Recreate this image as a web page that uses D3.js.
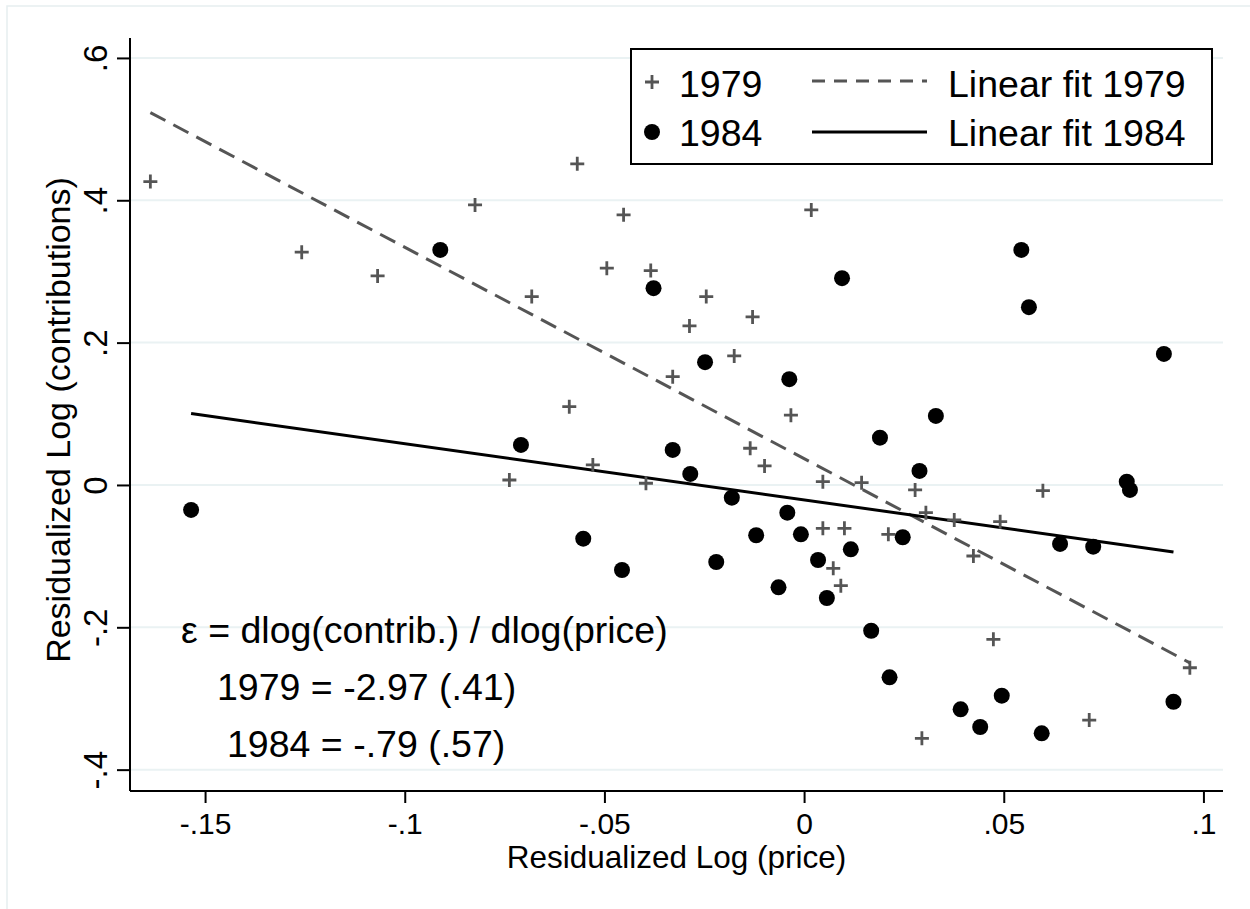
<!DOCTYPE html>
<html>
<head>
<meta charset="utf-8">
<script src="https://cdn.jsdelivr.net/npm/d3@7"></script>
<style>
  html, body { margin: 0; padding: 0; background: #fff; }
  svg { display: block; font-family: "Liberation Sans", Arial, Helvetica, sans-serif; }
</style>
</head>
<body>
<svg id="chart" width="1250" height="909"></svg>
<script>
// ---- data ----
const x1979 = [-0.1637,-0.1258,-0.1068,-0.0824,-0.0568,-0.0452,0.0018,-0.0494,-0.0384,-0.0682,
               -0.0245,-0.0129,-0.0287,-0.0175,-0.0329,-0.0588,-0.0033,-0.0135,-0.0099,-0.0529,
               -0.0738,-0.0396,0.0047,0.0144,0.0278,0.0598,0.0305,0.0376,0.0491,0.0047,
               0.0101,0.0211,0.0424,0.0073,0.0092,0.0474,0.0966,0.0714,0.0295];
const y1979 = [0.4263,0.3271,0.2937,0.3935,0.4512,0.3795,0.3865,0.3046,0.3012,0.2647,
               0.2647,0.2361,0.2235,0.1813,0.1522,0.1100,0.0980,0.0516,0.0267,0.0281,
               0.0070,0.0024,0.0046,0.0032,-0.0070,-0.0080,-0.0389,-0.0492,-0.0516,-0.0609,
               -0.0609,-0.0693,-0.0998,-0.1171,-0.1415,-0.2169,-0.2568,-0.3303,-0.3560];
const x1984 = [-0.1535,-0.0911,-0.0377,0.0095,0.0544,0.0563,-0.0248,-0.0037,-0.0709,-0.0329,
               -0.0285,-0.0181,-0.0042,-0.0553,-0.0120,-0.0008,-0.0456,-0.0220,0.0035,-0.0064,
               0.0057,0.0901,0.0330,0.0190,0.0289,0.0808,0.0816,0.0247,0.0117,0.0641,
               0.0724,0.0168,0.0214,0.0495,0.0925,0.0392,0.0441,0.0595];
const y1984 = [-0.0351,0.3303,0.2765,0.2905,0.3303,0.2498,0.1725,0.1486,0.0562,0.0492,
               0.0155,-0.0178,-0.0389,-0.0755,-0.0707,-0.0693,-0.1195,-0.1082,-0.1054,-0.1438,
               -0.1588,0.1841,0.0970,0.0665,0.0197,0.0046,-0.0070,-0.0735,-0.0904,-0.0829,
               -0.0867,-0.2048,-0.2703,-0.2961,-0.3046,-0.3153,-0.3401,-0.3490];
// linear fits: [slope, intercept]
const fit1979 = [-2.97, 0.037];
const fit1984 = [-0.79, -0.021];
const xTicks = [-0.15, -0.1, -0.05, 0, 0.05, 0.1];
const xTickLabels = ["-.15", "-.1", "-.05", "0", ".05", ".1"];
const yTicks = [-0.4, -0.2, 0, 0.2, 0.4, 0.6];
const yTickLabels = ["-.4", "-.2", "0", ".2", ".4", ".6"];
const legendLabels = ["1979", "1984", "Linear fit 1979", "Linear fit 1984"];
const noteLines = ["\u03b5 = dlog(contrib.) / dlog(price)", "1979 = -2.97 (.41)", "1984 = -.79 (.57)"];
const xTitle = "Residualized Log (price)";
const yTitle = "Residualized Log (contributions)";

// ---- layout ----
const L = 130, R = 1223, T = 38, B = 791;
const svg = d3.select("#chart");
const x = d3.scaleLinear().domain([-0.1688, 0.1049]).range([L, R]);
const y = d3.scaleLinear().domain([-0.430, 0.628]).range([B, T]);
const gray = "#555555";

// outer frame (only top/left visible)
svg.append("rect").attr("x", 7).attr("y", 6).attr("width", 1300).attr("height", 1000)
  .attr("fill", "#fff").attr("stroke", "#e6eef0").attr("stroke-width", 1.5);

// gridlines
svg.append("g").selectAll("line").data(yTicks).join("line")
  .attr("x1", L).attr("x2", R).attr("y1", d => y(d)).attr("y2", d => y(d))
  .attr("stroke", "#eaf2f3").attr("stroke-width", 2);

// axes
const xAxis = d3.axisBottom(x).tickValues(xTicks).tickFormat((d, i) => xTickLabels[i])
  .tickSize(12).tickSizeOuter(0).tickPadding(8);
const gx = svg.append("g").attr("transform", `translate(0,${B})`).call(xAxis);
gx.select(".domain").attr("stroke", "#000").attr("stroke-width", 2).attr("d", `M${L},0H${R}`);
gx.selectAll(".tick line").attr("stroke", "#000").attr("stroke-width", 2);
gx.selectAll(".tick text").attr("font-size", 30).attr("fill", "#000")
  .attr("font-family", "Liberation Sans, Arial, sans-serif").attr("dy", null).attr("y", 43);

const yAxis = d3.axisLeft(y).tickValues(yTicks).tickFormat((d, i) => yTickLabels[i])
  .tickSize(13).tickSizeOuter(0);
const gy = svg.append("g").attr("transform", `translate(${L},0)`).call(yAxis);
gy.select(".domain").attr("stroke", "#000").attr("stroke-width", 2).attr("d", `M0,${T}V${B}`);
gy.selectAll(".tick line").attr("stroke", "#000").attr("stroke-width", 2);
gy.selectAll(".tick text").attr("font-size", 33).attr("fill", "#000")
  .attr("font-family", "Liberation Sans, Arial, sans-serif")
  .attr("x", null).attr("dy", null).attr("text-anchor", "middle")
  .attr("transform", "translate(-23,0) rotate(-90)");

// axis titles
svg.append("text").attr("x", (L + R) / 2).attr("y", 868).attr("text-anchor", "middle")
  .attr("font-size", 31.5).text(xTitle);
svg.append("text").attr("transform", `translate(70,420) rotate(-90)`)
  .attr("text-anchor", "middle").attr("font-size", 34).text(yTitle);

// fit lines
const lineGen = d3.line().x(d => x(d[0])).y(d => y(d[1]));
const fitPts = (fit, xs) => d3.extent(xs).map(v => [v, fit[0] * v + fit[1]]);
svg.append("path").datum(fitPts(fit1979, x1979)).attr("d", lineGen)
  .attr("fill", "none").attr("stroke", gray).attr("stroke-width", 3).attr("stroke-dasharray", "17,9");
svg.append("path").datum(fitPts(fit1984, x1984)).attr("d", lineGen)
  .attr("fill", "none").attr("stroke", "#000").attr("stroke-width", 3);

// 1979 plus markers
const plus = (g, cx, cy, s) => {
  g.append("path").attr("d", `M${cx - s},${cy}H${cx + s}M${cx},${cy - s}V${cy + s}`)
    .attr("stroke", gray).attr("stroke-width", 2.8).attr("fill", "none");
};
const g79 = svg.append("g");
x1979.forEach((v, i) => plus(g79, x(v), y(y1979[i]), 7));

// 1984 dots
svg.append("g").selectAll("circle").data(x1984).join("circle")
  .attr("cx", d => x(d)).attr("cy", (d, i) => y(y1984[i])).attr("r", 8).attr("fill", "#000");

// annotation
const noteX = [181, 217, 227], noteY = [643, 700, 757];
svg.append("g").selectAll("text").data(noteLines).join("text")
  .attr("x", (d, i) => noteX[i]).attr("y", (d, i) => noteY[i])
  .attr("font-size", 37.5).attr("fill", "#000").text(d => d);

// legend
const lg = svg.append("g");
lg.append("rect").attr("x", 631).attr("y", 49).attr("width", 581).attr("height", 115)
  .attr("fill", "#fff").attr("stroke", "#000").attr("stroke-width", 2);
plus(lg, 652, 82, 7);
lg.append("circle").attr("cx", 652).attr("cy", 132).attr("r", 8).attr("fill", "#000");
lg.append("line").attr("x1", 812).attr("x2", 927).attr("y1", 81).attr("y2", 81)
  .attr("stroke", gray).attr("stroke-width", 3).attr("stroke-dasharray", "13,9");
lg.append("line").attr("x1", 812).attr("x2", 927).attr("y1", 132).attr("y2", 132)
  .attr("stroke", "#000").attr("stroke-width", 3);
const legX = [679, 679, 948, 948], legY = [97, 146, 97, 146];
lg.selectAll("text.lab").data(legendLabels).join("text").attr("class", "lab")
  .attr("x", (d, i) => legX[i]).attr("y", (d, i) => legY[i])
  .attr("font-size", 37.5).attr("fill", "#000").text(d => d);
</script>
</body>
</html>
